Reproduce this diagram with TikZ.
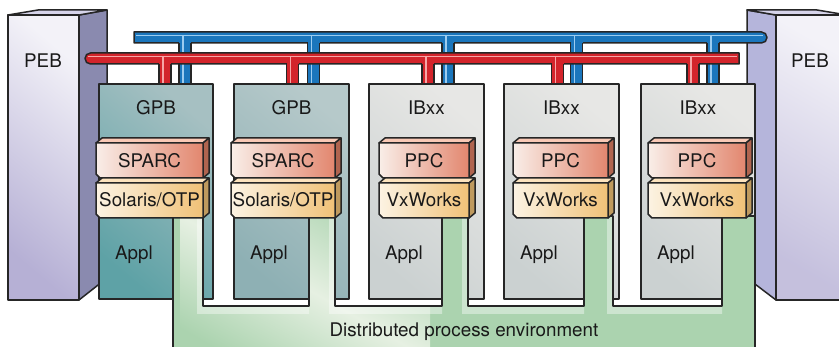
\documentclass[tikz,border=0pt]{standalone}
\usepackage{fontspec}
\setmainfont{TeX Gyre Heros}
\definecolor{pebLight}{HTML}{F3F2F8}
\definecolor{pebDark}{HTML}{B6B0D5}
\definecolor{pebSideL}{HTML}{8A8AAF}
\definecolor{pebSideR}{HTML}{B5B5DB}
\definecolor{pebTop}{HTML}{D6D4EA}
\definecolor{busBlue}{HTML}{1B76BC}
\definecolor{busBlueHi}{HTML}{9CCCF0}
\definecolor{busRed}{HTML}{D3242B}
\definecolor{busRedHi}{HTML}{F6A6A6}
\definecolor{gpbA1}{HTML}{5EA2A6}
\definecolor{gpbA2}{HTML}{A6C0C2}
\definecolor{gpbB1}{HTML}{8EB0B4}
\definecolor{gpbB2}{HTML}{B6C9CA}
\definecolor{ibx1}{HTML}{CBD1D1}
\definecolor{ibx2}{HTML}{E7E7E5}
\definecolor{cpuL}{HTML}{F9EEE8}
\definecolor{cpuR}{HTML}{E2866E}
\definecolor{cpuTop}{HTML}{F9C9B6}
\definecolor{cpuSide}{HTML}{B0644F}
\definecolor{osL}{HTML}{FCF3E3}
\definecolor{osR}{HTML}{F0C177}
\definecolor{osTop}{HTML}{FCE3BE}
\definecolor{osSide}{HTML}{BF9A5E}
\definecolor{dpeGreen}{HTML}{ABD3AF}
\definecolor{dpePale}{HTML}{E6F0E2}
\tikzstyle{edge} = [draw=black!85, line width=1.5pt, line join=round]
\tikzstyle{txt} = [font=\fontsize{18.8}{20}\selectfont, text=black!90, inner sep=0pt]
\tikzstyle{pebfaceL} = [edge, top color=pebLight, bottom color=pebDark, shading angle=-40]
\tikzstyle{pebfaceR} = [edge, top color=pebLight, bottom color=pebDark!80, shading angle=-30]
\tikzstyle{gpbA} = [edge, top color=gpbA2, bottom color=gpbA1, shading angle=-40]
\tikzstyle{gpbB} = [edge, top color=gpbB2, bottom color=gpbB1, shading angle=-40]
\tikzstyle{ibx} = [edge, top color=ibx2, bottom color=ibx1, shading angle=-40]
\tikzstyle{cpufront} = [left color=cpuL, right color=cpuR]
\tikzstyle{osfront} = [left color=osL, right color=osR]
\tikzstyle{bluebus} = [edge, fill=busBlue]
\tikzstyle{redbus} = [edge, fill=busRed]
\newcommand{\slab}[6]{%
  \draw[edge, fill=#5] (#1,#3+5) -- (#1+6,#3) -- (#2,#3) -- (#2-6,#3+5) -- cycle;
  \draw[edge, fill=#6] (#2-6,#3+5) -- (#2,#3) -- (#2,#3+35) -- (#2-6,#3+40) -- cycle;
  \draw[edge, #4] (#1,#3+5) -- (#2-6,#3+5) -- (#2-6,#3+40) -- (#1+4,#3+40) -- (#1,#3+36) -- cycle;
}
\newcommand{\dpecomb}{(173,348) -- (173,216) -- (203,216) -- (203,306) -- (309,306) -- (309,216)
  -- (335,216) -- (335,306) -- (442,306) -- (442,216) -- (468,216) -- (468,306)
  -- (584,306) -- (584,216) -- (613,216) -- (613,306) -- (722,306) -- (722,216)
  -- (755,216) -- (755,348)}
\begin{document}
\begin{tikzpicture}[x=1pt, y=-1pt]
\useasboundingbox (0,0) rectangle (839,347);

\draw[edge, fill=pebSideL] (79,15) -- (107,10) -- (107,278) -- (79,300) -- cycle;
\draw[edge, fill=pebTop] (8,15) -- (38,10) -- (107,10) -- (79,15) -- cycle;
\draw[pebfaceL] (8,15) rectangle (79,300);
\node (pebL) [txt, anchor=base] at (43,68) {PEB};

\draw[edge, fill=pebSideR] (776,15) -- (747,10) -- (747,278) -- (776,300) -- cycle;
\draw[edge, fill=pebTop] (776,15) -- (747,10) -- (817,10) -- (847,15) -- cycle;
\draw[pebfaceR] (776,15) rectangle (850,300);
\node (pebR) [txt, anchor=base] at (810,68) {PEB};

\draw[bluebus] (134,32) -- (761.5,32) arc(-90:90:5.5) -- (134,43) -- cycle;
\draw[busBlueHi, line width=1.6pt] (136,35.5) -- (763,35.5);
\foreach \x in {185,313.5,448,576.5,713} {
  \fill[busBlue] (\x-6,41) rectangle (\x+6,84);
  \draw[edge] (\x-6,43) -- (\x-6,84) (\x+6,43) -- (\x+6,84);
  \draw[busBlueHi, line width=1.6pt] (\x-2,35.5) -- (\x-2,84);
}
\draw[redbus] (739,53) -- (90.5,53) arc(-90:-270:5.5) -- (739,64) -- cycle;
\draw[busRedHi, line width=1.6pt] (88,56.5) -- (737,56.5);
\foreach \x in {165,292.5,428,557.5,693} {
  \fill[busRed] (\x-6,62) rectangle (\x+6,84);
  \draw[edge] (\x-6,64) -- (\x-6,84) (\x+6,64) -- (\x+6,84);
  \draw[busRedHi, line width=1.6pt] (\x-2,56.5) -- (\x-2,84);
}

\foreach \i/\bl/\br/\brd/\kind in {1/99/213/GPB/gpbA, 2/234/349/GPB/gpbB, 3/369/484/IBxx/ibx, 4/504/619/IBxx/ibx, 5/641/755/IBxx/ibx} {
  \draw[\kind] (\bl,84) rectangle (\br,299);
  \node (title\i) [txt, anchor=base] at ({(\bl+\br)/2},115) {\brd};
  \node (appl\i) [txt, anchor=base west] at (\bl+16,260) {Appl};
}

\begin{scope}
  \clip \dpecomb -- cycle;
  \fill[dpeGreen] (160,200) rectangle (770,350);
  \shade[left color=dpeGreen, right color=dpeGreen, middle color=dpePale, shading angle=150]
    (180,205) rectangle (430,370);
  \foreach \tr/\nl in {203/309, 335/442, 468/584, 613/722} {
    \fill[white, opacity=0.4] (\tr-6,216) -- (\tr,216) -- (\tr,306) -- (\nl,306) -- (\nl,314) -- (\tr-6,314) -- cycle;
  }
\end{scope}
\draw[edge] \dpecomb;
\node (dpe) [txt, anchor=base] at (464,337) {Distributed process environment};

\foreach \i/\sl/\sr/\cpu/\os in {1/96/209/SPARC/{Solaris/OTP}, 2/231/341/SPARC/{Solaris/OTP}, 3/379/475/PPC/VxWorks, 4/513/614/PPC/VxWorks, 5/648/752/PPC/VxWorks} {
  \slab{\sl}{\sr}{138}{cpufront}{cpuTop}{cpuSide}
  \slab{\sl}{\sr}{178}{osfront}{osTop}{osSide}
  \node (cpu\i) [txt, anchor=base] at ({(\sl+\sr-6)/2},168) {\cpu};
  \node (os\i) [txt, anchor=base] at ({(\sl+\sr-6)/2},207) {\os};
}
\end{tikzpicture}
\end{document}
